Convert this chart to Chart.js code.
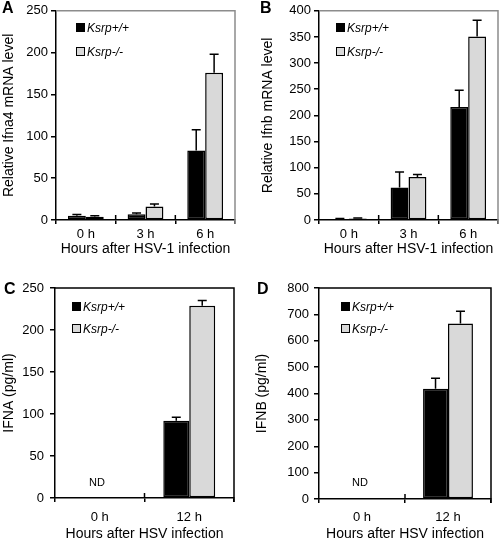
<!DOCTYPE html>
<html><head><meta charset="utf-8">
<script src="https://cdn.jsdelivr.net/npm/chart.js@4/dist/chart.umd.min.js"></script>
<style>
html,body{margin:0;padding:0;width:500px;height:541px;overflow:hidden;background:#fff;}
#wrap{position:relative;width:500px;height:541px;overflow:hidden;}
canvas{position:absolute;left:0;top:0;}
.lbl{position:absolute;font-family:Arial,"Liberation Sans",sans-serif;color:#000;white-space:nowrap;}
.letter{font-weight:bold;font-size:16px;line-height:16px;}
.leg{font-style:italic;font-size:12px;line-height:12px;}
.sq{position:absolute;width:9px;height:9px;box-sizing:border-box;}
.nd{font-size:11px;line-height:12px;transform:translate(-50%,-50%);}
</style></head>
<body>
<div id="wrap">
<canvas id="cA" width="500" height="560"></canvas>
<canvas id="cB" width="500" height="560"></canvas>
<canvas id="cC" width="500" height="560"></canvas>
<canvas id="cD" width="500" height="560"></canvas>
</div>
<script>
// ---- data ----
const seriesNames = ['Ksrp+/+', 'Ksrp-/-'];
const hoursMRNA = ['0 h', '3 h', '6 h'];
const hoursProtein = ['0 h', '12 h'];

const ifna4WT = [5, 7, 83];
const ifna4WTErr = [1.5, 1.5, 25];
const ifna4KO = [4, 16, 176];
const ifna4KOErr = [1, 3, 22];

const ifnbWT = [2, 62, 216];
const ifnbWTErr = [1, 30, 32];
const ifnbKO = [3, 82, 351];
const ifnbKOErr = [1, 5, 31];

const ifnaWT = [null, 92];
const ifnaWTErr = [0, 4];
const ifnaKO = [null, 229];
const ifnaKOErr = [0, 6];

const ifnbProtWT = [null, 418];
const ifnbProtWTErr = [0, 40];
const ifnbProtKO = [null, 665];
const ifnbProtKOErr = [0, 47];

const yMaxes = [250, 400, 250, 800];
const ySteps = [50, 50, 50, 100];
const yTitles = ['Relative Ifna4 mRNA level', 'Relative Ifnb mRNA level', 'IFNA (pg/ml)', 'IFNB (pg/ml)'];
const xTitles = ['Hours after HSV-1 infection', 'Hours after HSV-1 infection', 'Hours after HSV infection', 'Hours after HSV infection'];
const panelLetters = ['A', 'B', 'C', 'D'];
const notDetected = 'ND';

const FONT = 'Arial, "Liberation Sans", sans-serif';

const errorBars = {
  id: 'errorBars',
  afterDatasetsDraw(chart) {
    const ctx = chart.ctx, ys = chart.scales.y;
    chart.data.datasets.forEach((ds, i) => {
      const meta = chart.getDatasetMeta(i);
      meta.data.forEach((bar, j) => {
        const v = ds.data[j], e = ds.errors[j];
        if (v == null || !e) return;
        const top = ys.getPixelForValue(v + e);
        ctx.save();
        ctx.strokeStyle = '#000'; ctx.lineWidth = 1.5;
        ctx.beginPath();
        ctx.moveTo(bar.x, bar.y); ctx.lineTo(bar.x, top);
        ctx.moveTo(bar.x - 4.5, top); ctx.lineTo(bar.x + 4.5, top);
        ctx.stroke();
        ctx.restore();
      });
    });
  }
};

const frame = {
  id: 'frame',
  afterDraw(chart, args, opts) {
    const ctx = chart.ctx, a = chart.chartArea, xs = chart.scales.x;
    ctx.save();
    ctx.strokeStyle = opts.color || '#000'; ctx.lineWidth = 1.5;
    ctx.beginPath();
    ctx.moveTo(a.left, a.top); ctx.lineTo(a.right, a.top); ctx.lineTo(a.right, a.bottom + 4);
    ctx.stroke();
    ctx.strokeStyle = '#000';
    ctx.beginPath();
    const n = chart.data.labels.length;
    for (let i = 1; i < n; i++) {
      const x = (xs.getPixelForValue(i - 1) + xs.getPixelForValue(i)) / 2;
      ctx.moveTo(x, a.bottom - 5); ctx.lineTo(x, a.bottom);
    }
    ctx.stroke();
    ctx.restore();
  }
};

function makeChart(id, cfg) {
  const ds = (name, data, err, color, cat) => ({
    label: name, data: data, errors: err,
    backgroundColor: color, borderColor: '#000', borderWidth: 1.5, borderSkipped: false,
    barPercentage: 1, categoryPercentage: cat
  });
  return new Chart(document.getElementById(id), {
    type: 'bar',
    data: {
      labels: cfg.labels,
      datasets: [
        ds(seriesNames[0], cfg.wt, cfg.wtErr, '#000000', cfg.cat),
        ds(seriesNames[1], cfg.ko, cfg.koErr, '#d9d9d9', cfg.cat)
      ]
    },
    options: {
      responsive: false, animation: false, devicePixelRatio: 1, events: [],
      layout: { autoPadding: false, padding: cfg.pad },
      plugins: { legend: { display: false }, tooltip: { enabled: false }, frame: { color: cfg.frameColor } },
      scales: {
        x: {
          type: 'category', offset: true,
          grid: { offset: true, drawOnChartArea: false, drawTicks: true, tickLength: 4, color: '#000', lineWidth: 1.5 },
          border: { color: '#000', width: 1.5 },
          ticks: { color: '#000', font: { family: FONT, size: 13 }, padding: cfg.xPad, maxRotation: 0, autoSkip: false },
          title: { display: true, text: cfg.xTitle, color: '#000', font: { family: FONT, size: 14 }, padding: { top: 0, bottom: 0 } },
          afterFit(s) { s.height = cfg.xH; }
        },
        y: {
          min: 0, max: cfg.max,
          ticks: { stepSize: cfg.step, color: '#000', font: { family: FONT, size: 13 }, padding: cfg.yPad },
          grid: { drawOnChartArea: false, drawTicks: true, tickLength: 5, color: '#000', lineWidth: 1.5 },
          border: { color: '#000', width: 1.5 },
          title: { display: true, text: cfg.yTitle, color: '#000', font: { family: FONT, size: 14 }, padding: { top: 1, bottom: 0 } },
          afterFit(s) { s.width = cfg.yW; }
        }
      }
    },
    plugins: [errorBars, frame]
  });
}

makeChart('cA', { labels: hoursMRNA, wt: ifna4WT, wtErr: ifna4WTErr, ko: ifna4KO, koErr: ifna4KOErr, cat: 0.6,
  max: yMaxes[0], step: ySteps[0], yTitle: yTitles[0], xTitle: xTitles[0], frameColor: '#8c8c8c',
  pad: { left: 0, right: 265, top: 7, bottom: 302 }, yW: 56, xH: 38, xPad: 3, yPad: 3 });
makeChart('cB', { labels: hoursMRNA, wt: ifnbWT, wtErr: ifnbWTErr, ko: ifnbKO, koErr: ifnbKOErr, cat: 0.6,
  max: yMaxes[1], step: ySteps[1], yTitle: yTitles[1], xTitle: xTitles[1], frameColor: '#8c8c8c',
  pad: { left: 259, right: 2, top: 6, bottom: 302 }, yW: 60, xH: 38, xPad: 3, yPad: 3 });
makeChart('cC', { labels: hoursProtein, wt: ifnaWT, wtErr: ifnaWTErr, ko: ifnaKO, koErr: ifnaKOErr, cat: 0.58,
  max: yMaxes[2], step: ySteps[2], yTitle: yTitles[2], xTitle: xTitles[2], frameColor: '#000',
  pad: { left: 0, right: 266, top: 288, bottom: 17 }, yW: 55, xH: 45, xPad: 8, yPad: 6 });
makeChart('cD', { labels: hoursProtein, wt: ifnbProtWT, wtErr: ifnbProtWTErr, ko: ifnbProtKO, koErr: ifnbProtKOErr, cat: 0.58,
  max: yMaxes[3], step: ySteps[3], yTitle: yTitles[3], xTitle: xTitles[3], frameColor: '#000',
  pad: { left: 253, right: 9, top: 288, bottom: 17 }, yW: 66, xH: 44, xPad: 7, yPad: 5 });

// ---- annotations (panel letters, legends, ND) ----
const wrap = document.getElementById('wrap');
function addText(cls, text, left, top) {
  const d = document.createElement('div');
  d.className = 'lbl ' + cls; d.textContent = text;
  d.style.left = left + 'px'; d.style.top = top + 'px';
  wrap.appendChild(d);
  return d;
}
function addSquare(left, top, fill) {
  const d = document.createElement('div');
  d.className = 'sq';
  d.style.left = left + 'px'; d.style.top = top + 'px';
  d.style.background = fill; d.style.border = '1.5px solid #000';
  wrap.appendChild(d);
}
const letterPos = [[2, 0], [260, 0], [4, 281], [257, 281]];
panelLetters.forEach((t, i) => addText('letter', t, letterPos[i][0], letterPos[i][1]));

const legendPos = [[76, 23, 47], [336, 23, 47], [72, 302, 324], [341, 302, 324]];
legendPos.forEach(p => {
  addSquare(p[0], p[1], '#000');
  addText('leg', seriesNames[0], p[0] + 11, p[1] - 1);
  addSquare(p[0], p[2], '#d9d9d9');
  addText('leg', seriesNames[1], p[0] + 11, p[2] - 1);
});
addText('nd', notDetected, 97, 482);
addText('nd', notDetected, 360, 482);
</script>
</body></html>
